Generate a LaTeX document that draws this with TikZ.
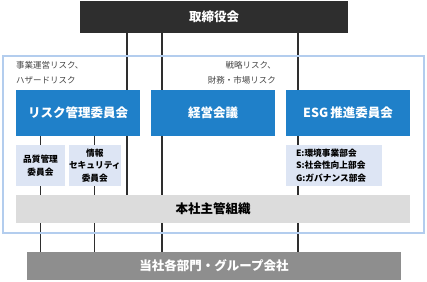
\documentclass[tikz,border=0pt]{standalone}
\usepackage{fontspec}
\setmainfont{Noto Sans CJK JP}
\usetikzlibrary{backgrounds}
\definecolor{topdark}{HTML}{2E2E2E}
\definecolor{mblue}{HTML}{1F80C9}
\definecolor{subblue}{HTML}{DDE5F4}
\definecolor{framec}{HTML}{B3CDEE}
\definecolor{midgray}{HTML}{DCDCDC}
\definecolor{botgray}{HTML}{8E8E8E}
\definecolor{linec}{HTML}{2E2E2E}
\definecolor{sidetext}{HTML}{444444}
\begin{document}
\begin{tikzpicture}[x=1pt,y=-1pt,
  box/.style={anchor=north west, inner sep=0pt, outer sep=0pt, align=center},
  topbox/.style={box, fill=topdark, text=white, font=\fontsize{12.5}{14}\selectfont\bfseries},
  bluebox/.style={box, fill=mblue, text=white, minimum width=124pt, minimum height=46pt, font=\fontsize{12.5}{14}\selectfont\bfseries},
  subbox/.style={box, fill=subblue, text=black, minimum height=41pt, font=\fontsize{8.7}{12.5}\selectfont\bfseries},
  midbox/.style={box, fill=midgray, text=black, font=\fontsize{12.5}{14}\selectfont\bfseries},
  botbox/.style={box, fill=botgray, text=white, font=\fontsize{12.5}{14}\selectfont\bfseries},
  sidenote/.style={inner sep=0pt, text=sidetext, font=\fontsize{8.5}{15}\selectfont},
  conn/.style={draw=linec, line width=1.1pt}]
\useasboundingbox (0,0) rectangle (427,281);
% outer frame
\node[box, draw=framec, line width=1.2pt, minimum width=421pt, minimum height=177pt] (frame) at (3,56) {};
% boxes
\node[topbox, minimum width=268pt, minimum height=32pt] (top) at (80,1) {取締役会};
\node[bluebox] (b1) at (16,90) {リスク管理委員会};
\node[bluebox] (b2) at (151,90) {経営会議};
\node[bluebox] (b3) at (286,90) {ESG\,推進委員会};
\node[subbox, minimum width=49pt] (s1) at (16,145) {品質管理\\委員会};
\node[subbox, minimum width=49pt] (s2) at (69,145) {情報\\セキュリティ\\委員会};
\node[subbox, minimum width=96pt, text width=76pt, inner xsep=10pt, align=left] (s3) at (286,145) {E:環境事業部会\\S:社会性向上部会\\G:ガバナンス部会};
\node[midbox, minimum width=394pt, minimum height=28pt] (mid) at (16,195) {本社主管組織};
\node[botbox, minimum width=374pt, minimum height=28pt] (bot) at (27,252) {当社各部門・グループ会社};
% side notes
\node[sidenote, anchor=north west, align=left] (n1) at (16,61) {事業運営リスク、\\ハザードリスク};
\node[sidenote, anchor=north east, align=right] (n2) at (276,61) {戦略リスク、\\財務・市場リスク};
% connectors
\coordinate (c1) at (127,0);
\coordinate (c2) at (162,0);
\coordinate (c3) at (298,0);
\begin{scope}[on background layer]
\draw[conn] (top.south -| c1) -- (mid.north -| c1);
\draw[conn] (top.south -| c2) -- (bot.north -| c2);
\draw[conn] (top.south -| c3) -- (bot.north -| c3);
\draw[conn] (b1.south -| s1.center) -- (bot.north -| s1.center);
\draw[conn] (b1.south -| s2.center) -- (bot.north -| s2.center);
\end{scope}
\end{tikzpicture}
\end{document}
